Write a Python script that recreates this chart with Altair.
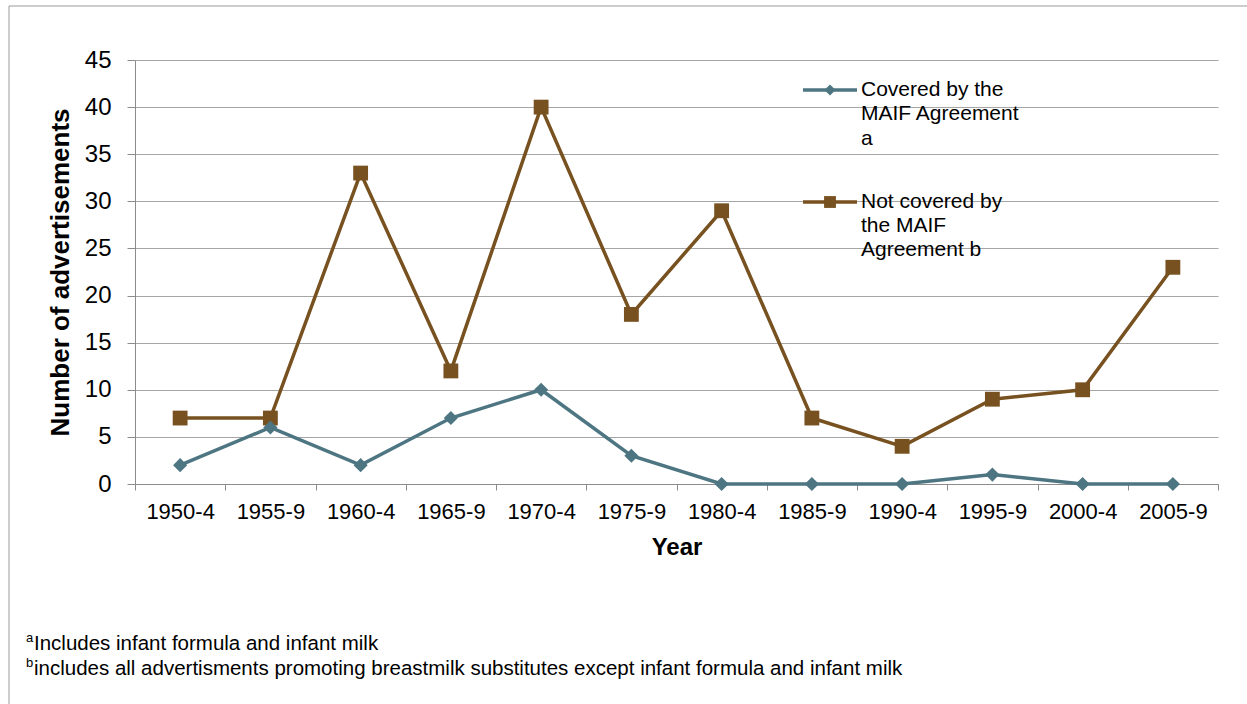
import altair as alt
import pandas as pd

periods = ["1950-4", "1955-9", "1960-4", "1965-9", "1970-4", "1975-9",
           "1980-4", "1985-9", "1990-4", "1995-9", "2000-4", "2005-9"]
covered = [2, 6, 2, 7, 10, 3, 0, 0, 0, 1, 0, 0]
not_covered = [7, 7, 33, 12, 40, 18, 29, 7, 4, 9, 10, 23]
y_ticks = [0, 5, 10, 15, 20, 25, 30, 35, 40, 45]

TEAL = "#4d7682"
BROWN = "#77511f"
FONT = "Arial"

df_cov = pd.DataFrame({"period": periods, "count": covered})
df_not = pd.DataFrame({"period": periods, "count": not_covered})
one_row = pd.DataFrame({"k": [0]})  # single datum for annotation marks

x_enc = alt.X(
    "period:N", sort=periods, bandPosition=0.5,
    scale=alt.Scale(type="band", paddingInner=0, paddingOuter=0),
    axis=alt.Axis(title="Year", tickBand="extent", labelAngle=0,
                  labelFontSize=22, labelPadding=11, tickSize=6,
                  titleFontSize=24, titleFontWeight="bold", titlePadding=13,
                  domainColor="#8c8c8c", tickColor="#8c8c8c", grid=False),
)
y_enc = alt.Y(
    "count:Q", scale=alt.Scale(domain=[0, 45], nice=False),
    axis=alt.Axis(title="Number of advertisements", values=y_ticks,
                  labelFontSize=24, labelPadding=16, tickSize=8,
                  titleFontSize=26, titleFontWeight="bold", titlePadding=11,
                  domainColor="#8c8c8c", tickColor="#8c8c8c",
                  gridColor="#a6a6a6", grid=True),
)


def series(df, color, shape, size):
    base = alt.Chart(df).encode(x=x_enc, y=y_enc)
    line = base.mark_line(color=color, strokeWidth=3.5)
    pts = base.mark_point(shape=shape, filled=True, color=color, size=size, opacity=1)
    return line + pts


# outer frame around the whole figure
frame = alt.Chart(one_row).mark_rect(fill=None, stroke="#9a9a9a", strokeWidth=1, clip=False).encode(
    x=alt.value(-126), x2=alt.value(1122), y=alt.value(-54), y2=alt.value(654)
)

# legend entries
leg_line1 = alt.Chart(one_row).mark_rule(color=TEAL, strokeWidth=3.5).encode(
    x=alt.value(668), x2=alt.value(722), y=alt.value(30)
)
leg_pt1 = alt.Chart(one_row).mark_point(shape="diamond", filled=True, color=TEAL, size=120, opacity=1).encode(
    x=alt.value(695), y=alt.value(30)
)
leg_line2 = alt.Chart(one_row).mark_rule(color=BROWN, strokeWidth=3.5).encode(
    x=alt.value(668), x2=alt.value(722), y=alt.value(142)
)
leg_pt2 = alt.Chart(one_row).mark_point(shape="square", filled=True, color=BROWN, size=140, opacity=1).encode(
    x=alt.value(695), y=alt.value(142)
)


def text_at(x, y, s, size=21, align="left"):
    return alt.Chart(one_row).mark_text(
        align=align, baseline="middle", font=FONT, fontSize=size,
        fontWeight="normal", color="#000000", clip=False
    ).encode(x=alt.value(x), y=alt.value(y), text=alt.value(s))


legend_text = [
    text_at(726, 30, "Covered by the"),
    text_at(726, 54, "MAIF Agreement"),
    text_at(726, 79, "a"),
    text_at(726, 142, "Not covered by"),
    text_at(726, 166, "the MAIF"),
    text_at(726, 190, "Agreement b"),
]

footnotes = [
    text_at(-109, 578, "a", size=13),
    text_at(-101, 584, "Includes infant formula and infant milk", size=20.5),
    text_at(-109, 603, "b", size=13),
    text_at(-101, 609, "includes all advertisments promoting breastmilk substitutes except infant formula and infant milk", size=20.5),
]

chart = alt.layer(
    frame,
    series(df_not, BROWN, "square", 220),
    series(df_cov, TEAL, "diamond", 200),
    leg_line1, leg_pt1, leg_line2, leg_pt2,
    *legend_text, *footnotes,
).properties(
    width=1083, height=424,
    autosize=alt.AutoSizeParams(type="none"),
    padding={"left": 135, "top": 60, "right": 29, "bottom": 220},
    background="white",
).configure_view(
    stroke=None
).configure_axis(
    labelFont=FONT, titleFont=FONT, labelColor="#000000", titleColor="#000000"
)

chart.save("out.html", embed_options={"renderer": "svg", "actions": False})
